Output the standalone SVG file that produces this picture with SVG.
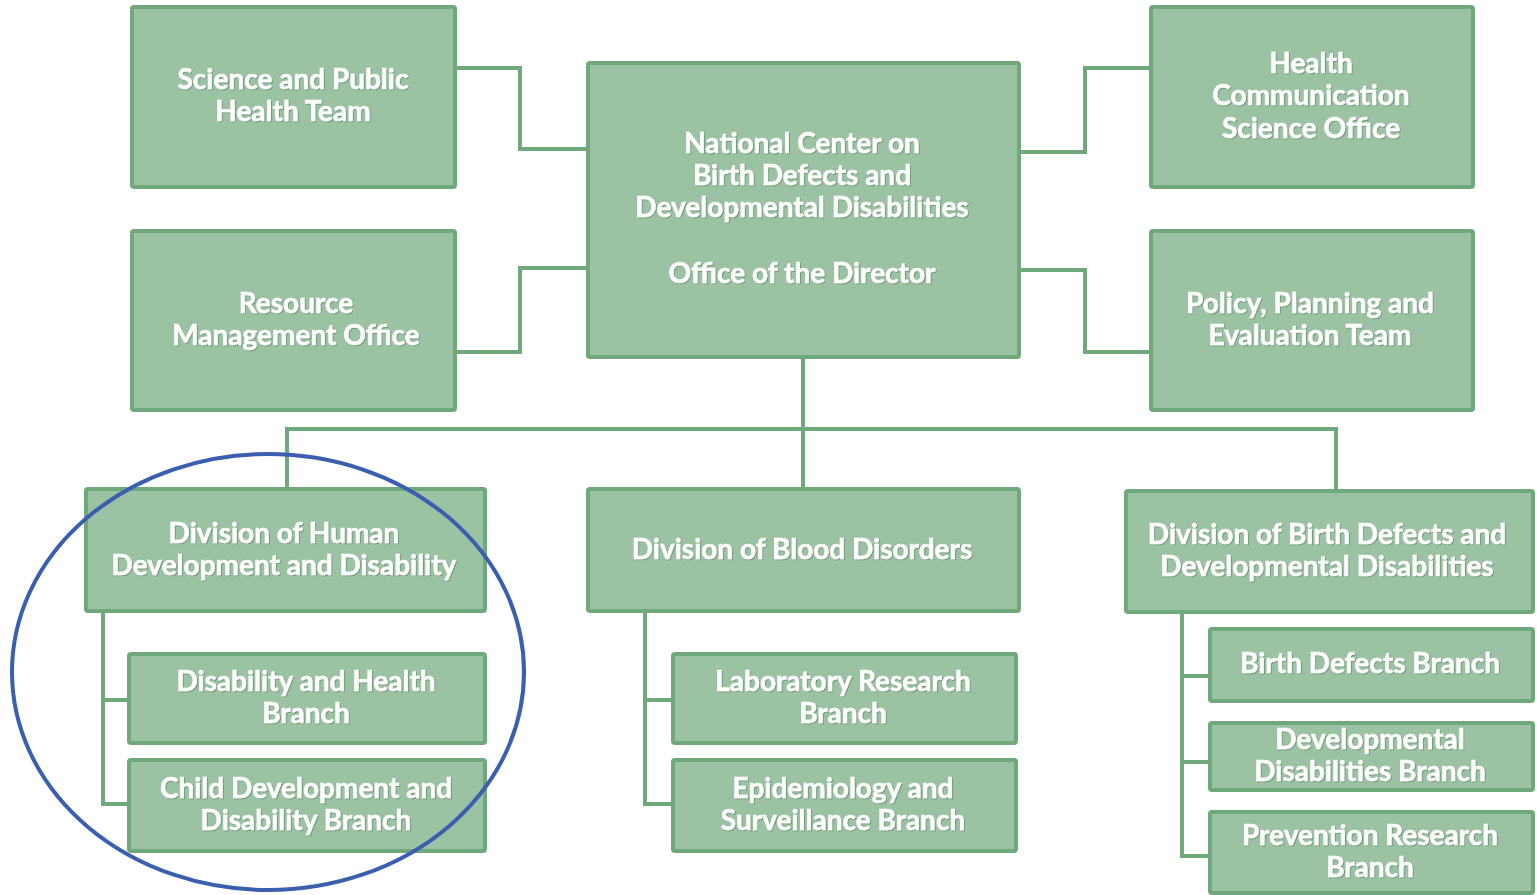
<svg xmlns="http://www.w3.org/2000/svg" width="1537" height="895" viewBox="0 0 1537 895">
  <defs>
    <filter id="txtShadow" x="-10%" y="-30%" width="120%" height="160%">
      <feDropShadow dx="1" dy="1" stdDeviation="0.6" flood-color="#3d6b47" flood-opacity="0.45"/>
    </filter>
  </defs>
  <style>
    .box { fill: #9bc2a2; stroke: #6fa87b; stroke-width: 4; }
    .conn { fill: none; stroke: #6fa87b; stroke-width: 4; stroke-linejoin: miter; }
    .lbl { font-family: Lato, "Open Sans", "Liberation Sans", sans-serif; font-weight: bold; font-size: 28px; fill: #ffffff; stroke: #ffffff; stroke-width: 0.5; text-anchor: middle; filter: url(#txtShadow); }
    .ring { fill: none; stroke: #3a5fae; stroke-width: 4; }
  </style>
  <rect width="1537" height="895" fill="#ffffff"/>

  <!-- connectors -->
  <g id="connectors">
    <path class="conn" d="M455 68 H520 V149 H588"/>
    <path class="conn" d="M455 352 H520 V268 H588"/>
    <path class="conn" d="M1019 152 H1085 V68 H1151"/>
    <path class="conn" d="M1019 270 H1085 V352 H1151"/>
    <path class="conn" d="M803 357 V489"/>
    <path class="conn" d="M287 489 V429 H1336 V491"/>
    <path class="conn" d="M103 611 V804 H129 M103 700 H129"/>
    <path class="conn" d="M645 611 V804 H673 M645 700 H673"/>
    <path class="conn" d="M1182 612 V856 H1210 M1182 676 H1210 M1182 762 H1210"/>
  </g>

  <!-- top tier -->
  <g id="science-public-health">
    <rect class="box" x="132" y="7" width="323" height="180" rx="2"/>
    <text class="lbl" x="293" y="89">Science and Public</text>
    <text class="lbl" x="293" y="121">Health Team</text>
  </g>
  <g id="resource-management">
    <rect class="box" x="132" y="231" width="323" height="179" rx="2"/>
    <text class="lbl" x="296" y="313">Resource</text>
    <text class="lbl" x="296" y="345">Management Office</text>
  </g>
  <g id="director">
    <rect class="box" x="588" y="63" width="431" height="294" rx="2"/>
    <text class="lbl" x="802" y="153">National Center on</text>
    <text class="lbl" x="802" y="185">Birth Defects and</text>
    <text class="lbl" x="802" y="217">Developmental Disabilities</text>
    <text class="lbl" x="802" y="283">Office of the Director</text>
  </g>
  <g id="health-communication">
    <rect class="box" x="1151" y="7" width="322" height="180" rx="2"/>
    <text class="lbl" x="1311" y="73">Health</text>
    <text class="lbl" x="1311" y="105">Communication</text>
    <text class="lbl" x="1311" y="138">Science Office</text>
  </g>
  <g id="policy-planning">
    <rect class="box" x="1151" y="231" width="322" height="179" rx="2"/>
    <text class="lbl" x="1310" y="313">Policy, Planning and</text>
    <text class="lbl" x="1310" y="345">Evaluation Team</text>
  </g>

  <!-- divisions -->
  <g id="div-human-development">
    <rect class="box" x="86" y="489" width="399" height="122" rx="2"/>
    <text class="lbl" x="284" y="543">Division of Human</text>
    <text class="lbl" x="284" y="575">Development and Disability</text>
  </g>
  <g id="div-blood-disorders">
    <rect class="box" x="588" y="489" width="431" height="122" rx="2"/>
    <text class="lbl" x="802" y="559">Division of Blood Disorders</text>
  </g>
  <g id="div-birth-defects">
    <rect class="box" x="1126" y="491" width="407" height="121" rx="2"/>
    <text class="lbl" x="1327" y="544">Division of Birth Defects and</text>
    <text class="lbl" x="1327" y="576">Developmental Disabilities</text>
  </g>

  <!-- branches -->
  <g id="disability-health-branch">
    <rect class="box" x="129" y="654" width="356" height="89" rx="2"/>
    <text class="lbl" x="306" y="691">Disability and Health</text>
    <text class="lbl" x="306" y="723">Branch</text>
  </g>
  <g id="child-development-branch">
    <rect class="box" x="129" y="760" width="356" height="91" rx="2"/>
    <text class="lbl" x="306" y="798">Child Development and</text>
    <text class="lbl" x="306" y="830">Disability Branch</text>
  </g>
  <g id="laboratory-research-branch">
    <rect class="box" x="673" y="654" width="343" height="89" rx="2"/>
    <text class="lbl" x="843" y="691">Laboratory Research</text>
    <text class="lbl" x="843" y="723">Branch</text>
  </g>
  <g id="epidemiology-branch">
    <rect class="box" x="673" y="760" width="343" height="91" rx="2"/>
    <text class="lbl" x="843" y="798">Epidemiology and</text>
    <text class="lbl" x="843" y="830">Surveillance Branch</text>
  </g>
  <g id="birth-defects-branch">
    <rect class="box" x="1210" y="629" width="323" height="72" rx="2"/>
    <text class="lbl" x="1370" y="673">Birth Defects Branch</text>
  </g>
  <g id="developmental-disabilities-branch">
    <rect class="box" x="1210" y="723" width="323" height="67" rx="2"/>
    <text class="lbl" x="1370" y="749">Developmental</text>
    <text class="lbl" x="1370" y="781">Disabilities Branch</text>
  </g>
  <g id="prevention-research-branch">
    <rect class="box" x="1210" y="812" width="323" height="81" rx="2"/>
    <text class="lbl" x="1370" y="845">Prevention Research</text>
    <text class="lbl" x="1370" y="877">Branch</text>
  </g>

  <!-- highlight ring -->
  <ellipse id="highlight" class="ring" cx="268" cy="672" rx="256" ry="218"/>
</svg>
